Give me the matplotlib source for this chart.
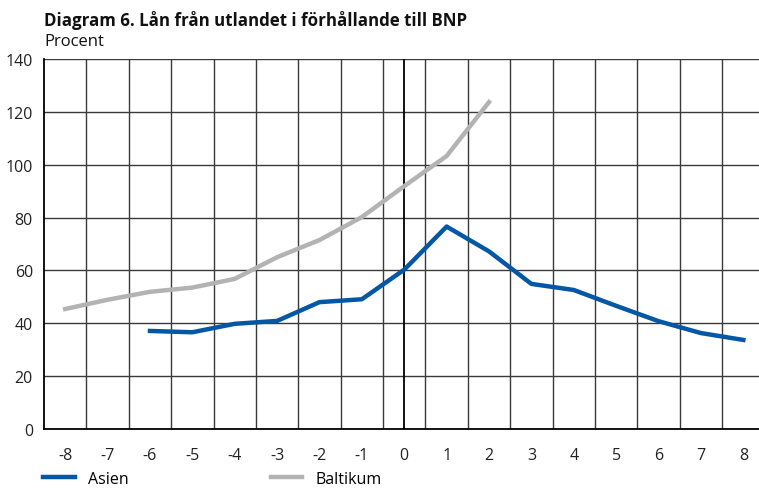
import matplotlib.pyplot as plt
from matplotlib.lines import Line2D

plt.rcParams['font.family'] = ['Open Sans', 'DejaVu Sans']

# Years relative to crisis
asien_x = [-6, -5, -4, -3, -2, -1, 0, 1, 2, 3, 4, 5, 6, 7, 8]
asien_y = [37.1, 36.6, 39.8, 40.9, 48.0, 49.1, 60.3, 76.6, 67.2, 54.9, 52.6, 46.6, 40.8, 36.3, 33.7]

baltikum_x = [-8, -7, -6, -5, -4, -3, -2, -1, 0, 1, 2]
baltikum_y = [45.4, 48.9, 51.9, 53.5, 56.8, 65.0, 71.5, 80.2, 91.9, 103.3, 123.7]

xticks = list(range(-8, 9))
yticks = [0, 20, 40, 60, 80, 100, 120, 140]

blue = '#0457A4'
gray = '#B3B3B3'

fig = plt.figure(figsize=(7.59, 4.89), dpi=100)
ax = fig.add_axes([44 / 759, 1 - 430 / 489, 1 - 44 / 759, 370 / 489])

# grid at category boundaries
for b in range(-8, 9):
    ax.axvline(b + 0.5, color='#3a3a3a', lw=1.0, zorder=1)
for yv in yticks[1:]:
    ax.axhline(yv, color='#3a3a3a', lw=1.0, zorder=1)
ax.axvline(0, color='black', lw=1.3, zorder=1)

ax.plot(baltikum_x, baltikum_y, color=gray, lw=3.2, zorder=3)
ax.plot(asien_x, asien_y, color=blue, lw=3.2, zorder=3)

ax.set_xlim(-8.5, 8.37)
ax.set_ylim(0, 140)
ax.set_xticks(xticks)
ax.set_xticklabels([str(v) for v in xticks])
ax.set_yticks(yticks)
ax.tick_params(length=0, labelsize=11.5, colors='#222222', pad=8)
ax.tick_params(axis='x', pad=13)
for s in ['top', 'right']:
    ax.spines[s].set_visible(False)
ax.spines['left'].set_color('black')
ax.spines['bottom'].set_color('black')
ax.spines['left'].set_linewidth(1.3)
ax.spines['bottom'].set_linewidth(1.3)

fig.text(44 / 759, 1 - 20 / 489, 'Diagram 6. Lån från utlandet i förhållande till BNP',
         fontsize=12.2, fontweight='bold', va='center', ha='left', color='#111111')
fig.text(44 / 759, 1 - 42 / 489, 'Procent', fontsize=12, va='center', ha='left', color='#111111')

handles = [Line2D([], [], color=blue, lw=3.2), Line2D([], [], color=gray, lw=3.2)]
fig.legend(handles, ['Asien', 'Baltikum'], loc='center left',
           bbox_to_anchor=(43 / 759, 1 - 480 / 489), ncol=2, frameon=False,
           fontsize=11.5, handlelength=2.0, handletextpad=0.8, columnspacing=8.9,
           borderpad=0, borderaxespad=0)

fig.savefig('out.png', dpi=100)
